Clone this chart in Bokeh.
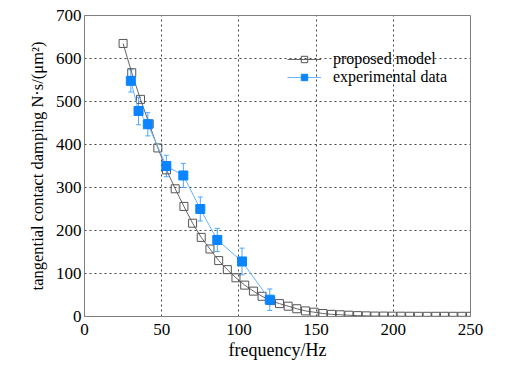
from bokeh.plotting import figure
from bokeh.models import ColumnDataSource, FixedTicker, Legend, LegendItem, Whisker, TeeHead
from bokeh.embed import file_html
from bokeh.resources import INLINE

# model curve
model_x = [25.0, 30.6, 36.25, 41.9, 47.5, 53.1, 58.75, 64.4, 70.0, 75.6, 81.25, 86.9, 92.5,
           98.1, 103.75, 109.4, 115.0, 120.6, 126.25, 131.9, 137.5, 143.1, 148.75, 154.4,
           160.0, 165.6, 171.25, 176.9, 182.5, 188.1, 193.75, 199.4, 205.0, 210.6, 216.25,
           221.9, 227.5, 233.1, 238.75, 244.4, 250.0]
model_y = [635, 567, 505, 448, 392, 341, 297, 256, 217, 184, 157, 130, 109,
           90, 73, 59, 47, 37, 30, 24, 18, 13, 10, 7,
           5, 4, 3, 2, 1.5, 1, 1, 0.8, 0.7, 0.6, 0.5,
           0.5, 0.5, 0.5, 0.5, 0.5, 0.5]

# experimental data
exp_x = [30, 35, 41, 53, 64, 75, 86, 102, 120]
exp_y = [548, 478, 447, 350, 328, 250, 178, 128, 39]
exp_err = [26, 32, 27, 25, 28, 28, 27, 31, 25]

x_ticks = [0, 50, 100, 150, 200, 250]
y_ticks = [0, 100, 200, 300, 400, 500, 600, 700]

FONT = "Liberation Serif"

p = figure(width=498, height=362, x_range=(0, 250), y_range=(0, 700),
           output_backend="svg", toolbar_location=None,
           min_border_left=84, min_border_right=28, min_border_top=15, min_border_bottom=45)

p.outline_line_color = "#808080"
p.outline_line_width = 1

for ax in (p.xaxis[0], p.yaxis[0]):
    ax.axis_line_color = "#808080"
    ax.major_tick_out = 0
    ax.major_tick_in = 0
    ax.minor_tick_out = 0
    ax.minor_tick_in = 0
    ax.major_label_text_font = FONT
    ax.major_label_text_font_size = "17px"
    ax.major_label_text_color = "black"
    ax.axis_label_text_font = FONT
    ax.axis_label_text_font_style = "normal"
    ax.axis_label_text_color = "black"

p.xaxis.axis_label_text_font_size = "18px"
p.yaxis.axis_label_text_font_size = "16.5px"
p.xaxis.ticker = FixedTicker(ticks=x_ticks)
p.yaxis.ticker = FixedTicker(ticks=y_ticks)
p.xaxis.major_label_standoff = 7
p.yaxis.major_label_standoff = 3
p.xaxis.axis_label = "frequency/Hz"
p.yaxis.axis_label = "tangential contact damping N·s/(μm²)"
p.xaxis.axis_label_standoff = 2
p.yaxis.axis_label_standoff = 6

p.xgrid.ticker = FixedTicker(ticks=x_ticks[1:-1])
p.ygrid.ticker = FixedTicker(ticks=y_ticks[1:-1])
for g in (p.xgrid[0], p.ygrid[0]):
    g.grid_line_color = "#444444"
    g.grid_line_dash = "2 3"
    g.grid_line_width = 1

msrc = ColumnDataSource(dict(x=model_x, y=model_y))
esrc = ColumnDataSource(dict(x=exp_x, y=exp_y,
                             lo=[v - e for v, e in zip(exp_y, exp_err)],
                             hi=[v + e for v, e in zip(exp_y, exp_err)]))

ml = p.line("x", "y", source=msrc, line_color="#555555", line_width=0.9)
mm = p.scatter("x", "y", source=msrc, marker="square", size=8,
               fill_color="white", fill_alpha=0.0, line_color="#555555", line_width=1)

el = p.line("x", "y", source=esrc, line_color="#66b3ff", line_width=1)
wh = Whisker(source=esrc, base="x", lower="lo", upper="hi",
             line_color="#4da6ff", line_width=1,
             upper_head=TeeHead(size=5, line_color="#4da6ff"),
             lower_head=TeeHead(size=5, line_color="#4da6ff"))
p.add_layout(wh)
em = p.scatter("x", "y", source=esrc, marker="square", size=9,
               fill_color="#0a84ff", line_color="#0a84ff")

legend = Legend(items=[LegendItem(label="proposed model", renderers=[ml, mm]),
                       LegendItem(label="experimental data", renderers=[el, em])],
                location=(203, 230))
legend.border_line_color = None
legend.background_fill_alpha = 0
legend.padding = 0
legend.margin = 0
legend.spacing = -4
legend.glyph_width = 34
legend.glyph_height = 16
legend.label_height = 16
legend.label_standoff = 12
legend.label_text_font = FONT
legend.label_text_font_size = "16px"
legend.label_text_color = "black"
p.add_layout(legend)

open("out.html", "w").write(file_html(p, INLINE))
